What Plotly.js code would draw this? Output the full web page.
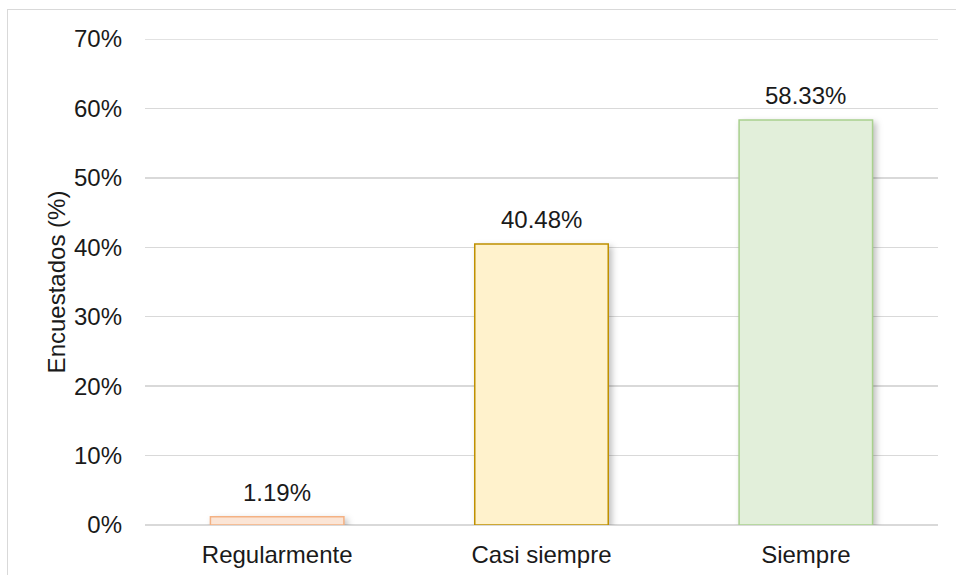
<!DOCTYPE html>
<html>
<head>
<meta charset="utf-8">
<script src="https://cdn.plot.ly/plotly-3.0.1.min.js"></script>
<style>
html,body{margin:0;padding:0;background:#fff;overflow:hidden;}
#frame{position:absolute;left:7px;top:9px;width:1000px;height:600px;border-left:1.5px solid #d9d9d9;border-top:1.5px solid #d9d9d9;box-sizing:border-box;}
#chart{position:absolute;left:0;top:0;width:956px;height:575px;}
.trace.bars .point path{filter:drop-shadow(3px 3px 3px rgba(0,0,0,0.25));}
</style>
</head>
<body>
<div id="frame"></div>
<div id="chart"></div>
<script>
const categories = ["Regularmente", "Casi siempre", "Siempre"];
const values = [1.19, 40.48, 58.33];
const labels = ["1.19%", "40.48%", "58.33%"];
const fillColors = ["#fbe5d6", "#fff2cc", "#e2efda"];
const lineColors = ["#f4b183", "#bf9000", "#a9d18e"];

const fontFam = "Liberation Sans, Arial, sans-serif";
const txtColor = "#1a1a1a";
const fs = 24;

const trace = {
  type: "bar",
  x: categories,
  y: values,
  width: 0.505,
  marker: { color: fillColors, line: { color: lineColors, width: 1.5 } },
  hoverinfo: "skip"
};

const annotations = categories.map((c, i) => ({
  x: c, y: values[i], xref: "x", yref: "y",
  text: labels[i], showarrow: false,
  yanchor: "bottom", yshift: 9,
  font: { family: fontFam, size: fs, color: txtColor }
}));

const layout = {
  width: 956,
  height: 575,
  margin: { l: 145, r: 18, t: 39, b: 50 },
  paper_bgcolor: "rgba(0,0,0,0)",
  plot_bgcolor: "rgba(0,0,0,0)",
  showlegend: false,
  bargap: 0.495,
  font: { family: fontFam, size: fs, color: txtColor },
  annotations: annotations,
  shapes: [{
    type: "line", xref: "paper", yref: "y", x0: 0, x1: 1, y0: 70, y1: 70,
    line: { color: "#d9d9d9", width: 1.5 }, layer: "below"
  }],
  xaxis: {
    showgrid: false,
    zeroline: false,
    showline: false,
    ticks: "",
    ticklabelstandoff: 13,
    tickfont: { family: fontFam, size: fs, color: txtColor }
  },
  yaxis: {
    range: [0, 70],
    dtick: 10,
    ticksuffix: "%",
    showgrid: true,
    gridcolor: "#d9d9d9",
    gridwidth: 1.5,
    zeroline: true,
    zerolinecolor: "#d9d9d9",
    zerolinewidth: 1.5,
    showline: false,
    ticks: "",
    ticklabelstandoff: 22,
    tickfont: { family: fontFam, size: fs, color: txtColor },
    title: { text: "Encuestados (%)", font: { family: fontFam, size: fs, color: txtColor }, standoff: 1 }
  }
};

Plotly.newPlot("chart", [trace], layout, { staticPlot: true, displayModeBar: false });
</script>
</body>
</html>
